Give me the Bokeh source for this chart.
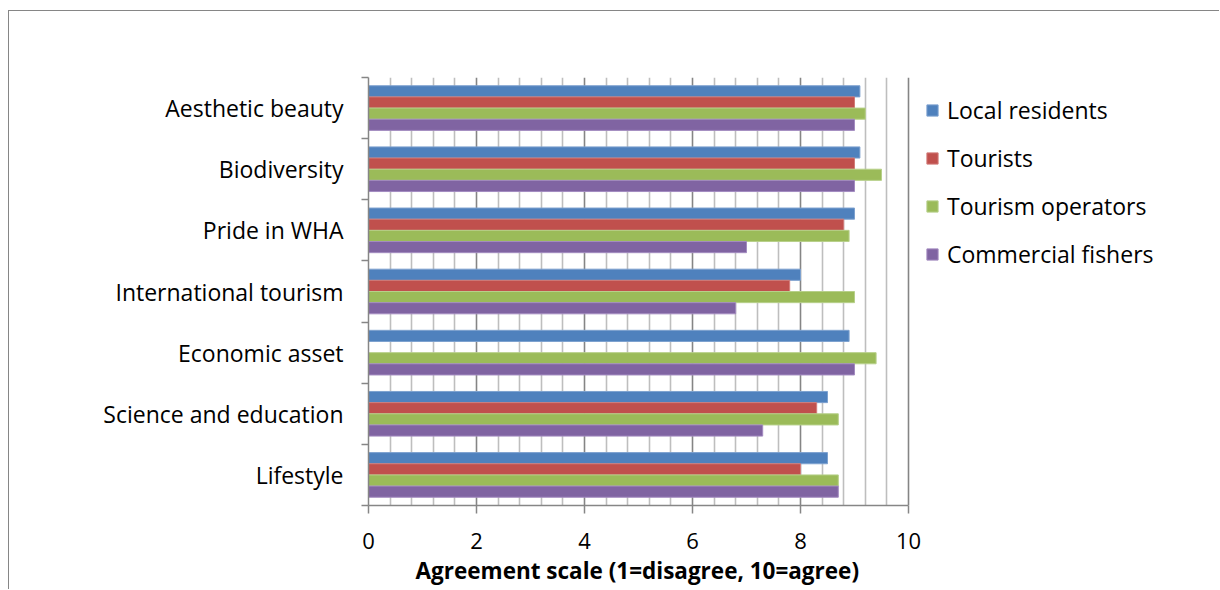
from bokeh.plotting import figure
from bokeh.models import (FixedTicker, Legend, LegendItem, ColumnDataSource,
                          Range1d, Title)
from bokeh.embed import file_html
from bokeh.resources import INLINE

# Survey categories, listed top to bottom
categories = ["Aesthetic beauty", "Biodiversity", "Pride in WHA",
              "International tourism", "Economic asset",
              "Science and education", "Lifestyle"]

# Mean agreement score per stakeholder group (NaN = no response)
local_residents = [9.1, 9.1, 9.0, 8.0, 8.9, 8.5, 8.5]
tourists = [9.0, 9.0, 8.8, 7.8, float("nan"), 8.3, 8.0]
tourism_operators = [9.2, 9.5, 8.9, 9.0, 9.4, 8.7, 8.7]
commercial_fishers = [9.0, 9.0, 7.0, 6.8, 9.0, 7.3, 8.7]

series_names = ["Local residents", "Tourists", "Tourism operators", "Commercial fishers"]
series_values = [local_residents, tourists, tourism_operators, commercial_fishers]
fill_colors = ["#4F81BD", "#C0504D", "#9BBB59", "#8064A2"]
edge_colors = ["#7DA1CF", "#D27C79", "#B7D08A", "#A38BC0"]

x_ticks = [0, 2, 4, 6, 8, 10]
x_minor = [round(0.4 * k, 1) for k in range(1, 25) if k % 5]
x_title = "Agreement scale (1=disagree, 10=agree)"

FONT = "Open Sans"
AXIS_GREY = "#868686"

n = len(categories)
centers = [n - i - 0.5 for i in range(n)]
bar_h = 0.1825
offsets = [1.5 * bar_h, 0.5 * bar_h, -0.5 * bar_h, -1.5 * bar_h]

# The plotting frame runs to the right edge so the legend can sit inside it;
# the scale stays at 54 px per unit, axis and grid are bounded to 0..10.
W, H = 1211, 579
LEFT = 359
PX_PER_UNIT = 54.0
x_end = (W - LEFT) / PX_PER_UNIT

p = figure(width=W, height=H, output_backend="svg", toolbar_location=None,
           x_range=Range1d(0, x_end), y_range=Range1d(0, n),
           min_border_left=LEFT, min_border_right=0,
           min_border_top=66, min_border_bottom=85,
           background_fill_color="white", border_fill_color="white")
p.outline_line_color = None
# chart area frame (top and left edges)
p.styles = {"margin-left": "8px", "margin-top": "10px",
            "border-top": "1px solid #868686", "border-left": "1px solid #868686"}

renderers = []
for name, vals, fc, ec, off in zip(series_names, series_values, fill_colors,
                                   edge_colors, offsets):
    src = ColumnDataSource(dict(y=[c + off for c in centers], right=vals))
    r = p.hbar(y="y", left=0, right="right", height=bar_h, source=src,
               fill_color=fc, line_color=ec, line_width=1)
    renderers.append((name, r))

# x axis with major/minor grid
p.xaxis.ticker = FixedTicker(ticks=x_ticks, minor_ticks=x_minor)
p.xaxis.bounds = (0, 10)
p.xaxis.axis_line_color = AXIS_GREY
p.xaxis.axis_line_width = 1.5
p.xaxis.major_tick_line_color = AXIS_GREY
p.xaxis.major_tick_line_width = 1.5
p.xaxis.major_tick_out = 8
p.xaxis.major_tick_in = 0
p.xaxis.minor_tick_line_color = None
p.xaxis.major_label_text_font = FONT
p.xaxis.major_label_text_font_size = "22px"
p.xaxis.major_label_text_color = "black"
p.xaxis.major_label_standoff = 19

# axis title, centred under the 0..10 span
p.add_layout(Title(text=x_title, align="left", offset=47, standoff=3,
                   text_font=FONT, text_font_size="22.5px",
                   text_font_style="bold", text_color="black"), "below")

p.xgrid.bounds = (0, 10)
p.xgrid.grid_line_color = "#858585"
p.xgrid.grid_line_width = 1.6
p.xgrid.minor_grid_line_color = "#BEBEBE"
p.xgrid.minor_grid_line_width = 1.6
p.ygrid.grid_line_color = None

# y axis: labels at category centres, ticks at category boundaries
p.yaxis.ticker = FixedTicker(ticks=centers, minor_ticks=list(range(n + 1)))
p.yaxis.major_label_overrides = {c: name for c, name in zip(centers, categories)}
p.yaxis.axis_line_color = AXIS_GREY
p.yaxis.axis_line_width = 1.5
p.yaxis.major_tick_line_color = None
p.yaxis.major_tick_out = 0
p.yaxis.major_tick_in = 0
p.yaxis.minor_tick_line_color = AXIS_GREY
p.yaxis.minor_tick_line_width = 1.5
p.yaxis.minor_tick_out = 7
p.yaxis.minor_tick_in = 0
p.yaxis.major_label_text_font = FONT
p.yaxis.major_label_text_font_size = "23px"
p.yaxis.major_label_text_color = "black"
p.yaxis.major_label_standoff = 18

legend = Legend(items=[LegendItem(label=nm, renderers=[r]) for nm, r in renderers],
                location=(557, 235), orientation="vertical",
                label_text_font=FONT, label_text_font_size="23px",
                label_text_color="black", glyph_width=14, glyph_height=14,
                label_standoff=8, label_height=30, spacing=16,
                padding=0, margin=0, border_line_color=None,
                background_fill_alpha=0)
p.add_layout(legend, "center")

open("out.html", "w").write(file_html(p, INLINE))
